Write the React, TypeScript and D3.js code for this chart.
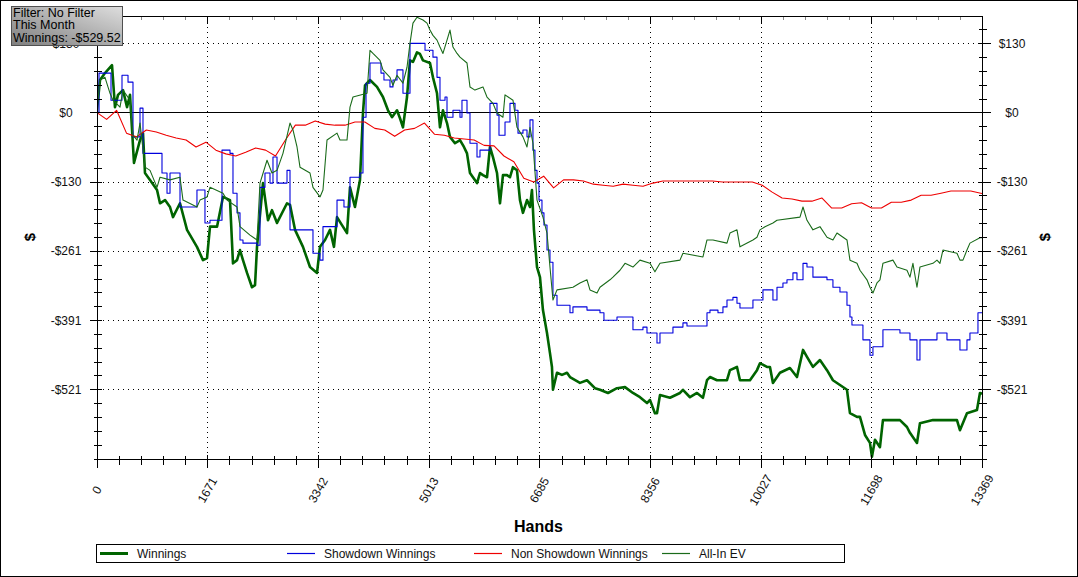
import React from 'react';
import * as d3 from 'd3';

const W = 1078;
const H = 577;
const PLOT = { left: 96.7, right: 982, top: 15.5, bottom: 458.5 };
const FONT = '"Liberation Sans", Arial, sans-serif';

// [hand, $] pairs
const WINNINGS: [number, number][] = [
  [0,0],[50,61],[125,74],[231,89],[276,10],[322,33],[397,42],[458,10],[503,33],[563,-95],[654,-52],[699,-39],[729,-114],[805,-127],[911,-146],[956,-171],[1032,-165],[1107,-178],[1152,-197],[1258,-171],[1364,-221],[1514,-253],[1605,-278],[1666,-274],[1711,-215],[1817,-215],[1907,-159],[2013,-165],[2058,-284],[2119,-278],[2164,-259],[2209,-278],[2270,-302],[2345,-329],[2391,-325],[2421,-253],[2511,-133],[2587,-203],[2647,-184],[2723,-208],[2874,-171],[2919,-174],[2995,-221],[3115,-253],[3221,-291],[3327,-302],[3372,-253],[3448,-240],[3523,-221],[3583,-253],[3629,-197],[3704,-212],[3780,-227],[3825,-141],[3900,-178],[3976,-127],[4021,-1],[4052,51],[4127,61],[4233,48],[4323,29],[4399,4],[4459,-9],[4535,4],[4580,-11],[4625,-28],[4686,29],[4731,98],[4776,95],[4837,113],[4882,110],[4927,98],[5033,93],[5078,66],[5139,36],[5184,-28],[5229,4],[5290,-20],[5335,-46],[5410,-58],[5486,-52],[5546,-65],[5592,-77],[5637,-114],[5682,-122],[5743,-133],[5788,-114],[5833,-118],[5894,-122],[5939,-65],[5984,-84],[6045,-114],[6090,-171],[6135,-118],[6196,-118],[6241,-122],[6286,-103],[6347,-109],[6392,-165],[6437,-189],[6498,-165],[6543,-178],[6573,-146],[6603,-221],[6649,-291],[6694,-310],[6739,-372],[6800,-415],[6845,-453],[6875,-479],[6890,-522],[6951,-490],[7026,-494],[7102,-490],[7147,-498],[7298,-509],[7404,-504],[7524,-519],[7600,-522],[7721,-528],[7857,-519],[7978,-517],[8098,-528],[8204,-536],[8310,-547],[8355,-541],[8430,-566],[8461,-566],[8506,-532],[8657,-537],[8808,-528],[8853,-522],[8959,-536],[9065,-528],[9155,-537],[9216,-504],[9261,-498],[9367,-504],[9518,-504],[9563,-485],[9669,-479],[9714,-504],[9865,-504],[9971,-485],[10016,-472],[10122,-479],[10167,-479],[10212,-509],[10318,-490],[10469,-481],[10575,-498],[10666,-447],[10726,-460],[10816,-479],[10922,-466],[11028,-485],[11118,-504],[11224,-513],[11330,-522],[11375,-566],[11481,-573],[11526,-573],[11602,-607],[11677,-622],[11707,-648],[11753,-616],[11828,-630],[11873,-579],[12055,-579],[12130,-579],[12236,-592],[12281,-603],[12387,-622],[12432,-585],[12628,-579],[12810,-579],[12991,-579],[13036,-598],[13142,-566],[13293,-560],[13338,-528],[13369,-529.52],
];

const SHOWDOWN: [number, number][] = [
  [0,0],[35,74],[216,23],[382,70],[473,57],[548,-46],[654,8],[699,-77],[986,-114],[1062,-152],[1107,-114],[1258,-178],[1514,-146],[1635,-208],[1711,-203],[1892,-71],[2013,-77],[2058,-152],[2119,-189],[2164,-240],[2209,-246],[2421,-250],[2466,-141],[2541,-114],[2617,-133],[2662,-84],[2723,-133],[2874,-109],[2919,-221],[3266,-265],[3372,-278],[3417,-215],[3629,-165],[3734,-178],[3825,-122],[3976,-114],[4021,-9],[4067,55],[4127,93],[4293,74],[4338,61],[4429,48],[4474,61],[4535,80],[4625,36],[4731,130],[4958,117],[5078,104],[5139,66],[5184,23],[5260,29],[5290,-9],[5380,4],[5486,-9],[5516,23],[5592,-1],[5637,-58],[5743,-84],[5788,-71],[5939,17],[6045,-5],[6075,-43],[6166,-18],[6241,17],[6317,4],[6362,-39],[6437,-33],[6498,-46],[6543,-14],[6588,-71],[6618,-109],[6649,-133],[6679,-165],[6724,-189],[6754,-212],[6800,-259],[6845,-282],[6890,-344],[6951,-363],[7147,-377],[7192,-366],[7404,-372],[7600,-377],[7660,-391],[7857,-385],[8098,-409],[8249,-404],[8310,-415],[8461,-434],[8506,-415],[8702,-404],[8853,-396],[8914,-402],[9216,-377],[9261,-372],[9382,-377],[9457,-366],[9518,-353],[9608,-348],[9669,-359],[9714,-368],[9910,-353],[10061,-334],[10212,-353],[10273,-329],[10363,-321],[10424,-315],[10514,-302],[10575,-315],[10666,-284],[10726,-291],[10816,-310],[11028,-315],[11118,-329],[11224,-338],[11330,-363],[11375,-385],[11405,-400],[11571,-428],[11677,-457],[11722,-441],[11873,-409],[12130,-415],[12281,-428],[12387,-466],[12432,-428],[12689,-415],[12840,-428],[13036,-447],[13142,-428],[13187,-415],[13308,-377],[13369,-377],
];

const NS_HANDS = [0,150,300,450,600,750,900,1050,1200,1350,1500,1650,1800,1950,2100,2250,2400,2550,2700,2850,3000,3150,3300,3450,3600,3750,3900,4050,4200,4350,4500,4650,4800,4950,5100,5250,5400,5550,5700,5850,6000,6150,6300,6450,6600,6750,6900,7050,7200,7350,7500,7650,7800,7950,8100,8250,8400,8550,8700,8850,9000,9150,9300,9450,9600,9750,9900,10050,10200,10350,10500,10650,10800,10950,11100,11250,11400,11550,11700,11850,12000,12150,12300,12450,12600,12750,12900,13050,13200,13350,13369];
const NON_SHOWDOWN = [0,-13,4,-39,-46,-33,-37,-43,-48,-52,
 -65,-56,-71,-78,-82,-75,-67,-71,-82,-52,
 -24,-24,-16,-22,-24,-24,-18,-18,-30,-33,
 -45,-33,-30,-20,-41,-43,-48,-50,-52,-62,
 -63,-82,-93,-124,-131,-120,-142,-127,-127,-129,
 -135,-137,-139,-135,-137,-139,-133,-129,-129,-129,
 -129,-129,-129,-131,-131,-131,-131,-137,-150,-161,
 -163,-167,-167,-161,-180,-180,-172,-170,-180,-180,
 -169,-169,-165,-156,-156,-152,-148,-148,-148,-152,
 -152.52];

const ALLIN_EV: [number, number][] = [
  [0,0],[50,61],[125,66],[201,36],[246,23],[352,10],[397,42],[503,23],[548,-43],[609,-52],[654,-20],[729,-103],[805,-109],[911,-141],[956,-122],[1107,-127],[1258,-122],[1303,-165],[1514,-178],[1560,-165],[1666,-159],[1711,-141],[1907,-152],[1968,-165],[2119,-178],[2164,-215],[2315,-231],[2421,-240],[2466,-133],[2572,-90],[2647,-114],[2723,-109],[2813,-77],[2919,-20],[2964,-33],[3025,-65],[3070,-103],[3221,-114],[3266,-141],[3372,-159],[3417,-146],[3478,-52],[3629,-39],[3674,-52],[3780,-52],[3825,10],[3870,29],[4082,36],[4127,117],[4172,111],[4278,98],[4323,80],[4429,66],[4474,51],[4535,70],[4625,55],[4686,85],[4731,130],[4776,168],[4837,179],[4927,174],[4988,168],[5033,155],[5078,145],[5139,136],[5184,123],[5229,111],[5290,136],[5335,155],[5380,123],[5441,111],[5486,104],[5592,93],[5637,48],[5712,42],[5833,48],[5894,29],[5984,17],[6045,-1],[6135,-9],[6166,33],[6286,23],[6347,-28],[6437,-46],[6498,-65],[6543,-28],[6588,-58],[6649,-165],[6739,-197],[6800,-227],[6845,-291],[6890,-353],[6951,-334],[7192,-329],[7298,-321],[7404,-315],[7449,-334],[7555,-340],[7600,-329],[7751,-315],[7796,-310],[7902,-297],[7978,-284],[8098,-291],[8204,-278],[8355,-284],[8430,-300],[8506,-284],[8808,-278],[8853,-265],[9155,-272],[9216,-240],[9306,-240],[9518,-246],[9563,-227],[9669,-221],[9714,-253],[9910,-240],[9971,-235],[10016,-221],[10092,-215],[10212,-208],[10273,-203],[10620,-197],[10666,-178],[10726,-203],[10816,-221],[10922,-215],[11028,-235],[11118,-240],[11179,-227],[11330,-240],[11375,-278],[11481,-284],[11526,-297],[11632,-315],[11677,-329],[11722,-340],[11783,-321],[11828,-315],[11873,-284],[12024,-278],[12085,-291],[12236,-297],[12281,-310],[12326,-284],[12387,-329],[12432,-291],[12628,-284],[12689,-278],[12734,-284],[12779,-259],[12991,-265],[13036,-278],[13081,-278],[13142,-259],[13187,-246],[13338,-236],[13369,-236],
];

const X_TICKS = [0, 1671, 3342, 5013, 6685, 8356, 10027, 11698, 13369];
const Y_TICK_VALUES = [130.26, 0, -130.26, -260.52, -390.78, -521.04];
const Y_TICK_LABELS = ['$130', '$0', '-$130', '-$261', '-$391', '-$521'];
const Y_DOMAIN = [-651.3, 182.4];
const Y_MINOR_STEP = 26.052;

const LEGEND = [
  { name: 'Winnings', color: '#006400', width: 3 },
  { name: 'Showdown Winnings', color: '#0000dd', width: 1.2 },
  { name: 'Non Showdown Winnings', color: '#ee0000', width: 1.2 },
  { name: 'All-In EV', color: '#1a6b1a', width: 1.2 },
];

const FILTER_LINES = ['Filter: No Filter', 'This Month', 'Winnings: -$529.52'];

export default function App() {
  const x = d3.scaleLinear().domain([0, 13369]).range([PLOT.left, PLOT.right]);
  const y = d3.scaleLinear().domain(Y_DOMAIN).range([PLOT.bottom, PLOT.top]);
  const px = (v: number) => Math.round(x(v)) + 0.5;
  const py = (v: number) => Math.round(y(v)) + 0.5;

  const pairLine = (pts: [number, number][], curve: any) =>
    d3.line<[number, number]>()
      .x((d) => x(d[0]))
      .y((d) => y(d[1]))
      .curve(curve)(pts) || '';

  const nsPts: [number, number][] = NON_SHOWDOWN.map((v, i) => [NS_HANDS[i], v]);

  const minorX: number[] = [];
  for (let i = 0; i < X_TICKS.length - 1; i++) {
    for (let j = 1; j < 5; j++) {
      minorX.push(X_TICKS[i] + ((X_TICKS[i + 1] - X_TICKS[i]) * j) / 5);
    }
  }
  const minorY: number[] = [];
  for (let v = Y_DOMAIN[0]; v <= Y_DOMAIN[1] - 1; v += Y_MINOR_STEP) minorY.push(v);

  const L = Math.round(PLOT.left) + 0.5;
  const R = Math.round(PLOT.right) + 0.5;
  const T = Math.round(PLOT.top) + 0.5;
  const B = Math.round(PLOT.bottom) + 0.5;

  const legendStarts = [100, 287, 474, 662];

  return (
    <svg width={W} height={H} style={{ position: 'absolute', left: 0, top: 0, background: '#fff' }}
      fontFamily={FONT}>
      <defs>
        <clipPath id="plotclip">
          <rect x={L} y={T - 1} width={R - L} height={B - T + 1} />
        </clipPath>
        <linearGradient id="fbox" x1="0" y1="1" x2="1" y2="0">
          <stop offset="0" stopColor="#7e7e7e" />
          <stop offset="1" stopColor="#dedede" />
        </linearGradient>
      </defs>
      <rect x={0.5} y={0.5} width={W - 1} height={H - 1} fill="#fff" stroke="#000" />

      {/* gridlines */}
      <g stroke="#000" strokeDasharray="1,4" shapeRendering="crispEdges">
        {Y_TICK_VALUES.filter((v) => v !== 0).map((v) => (
          <line key={'gy' + v} x1={L} x2={R} y1={py(v)} y2={py(v)} />
        ))}
        {X_TICKS.slice(1, -1).map((v) => (
          <line key={'gx' + v} x1={px(v)} x2={px(v)} y1={T} y2={B} />
        ))}
      </g>
      <line x1={L} x2={R} y1={py(0)} y2={py(0)} stroke="#000" shapeRendering="crispEdges" />

      {/* series */}
      <g clipPath="url(#plotclip)" fill="none" strokeLinejoin="round">
        <path d={pairLine(WINNINGS, d3.curveLinear)} stroke="#006400" strokeWidth={2.6} />
        <path d={pairLine(SHOWDOWN, d3.curveStepAfter)} stroke="#0000dd" strokeWidth={1.1} />
        <path d={pairLine(nsPts, d3.curveLinear)} stroke="#ee0000" strokeWidth={1.1} />
        <path d={pairLine(ALLIN_EV, d3.curveLinear)} stroke="#1a6b1a" strokeWidth={1.1} />
      </g>

      {/* frame and axes */}
      <g stroke="#000" shapeRendering="crispEdges" fill="none">
        <line x1={L} x2={R} y1={T} y2={T} />
        <line x1={L} x2={L} y1={T} y2={B + 8} />
        <line x1={R} x2={R} y1={T} y2={B + 8} />
        <line x1={L} x2={R} y1={B} y2={B} />
        {minorY.map((v) => (
          <g key={'my' + v}>
            <line x1={L - 4} x2={L + 4} y1={py(v)} y2={py(v)} />
            <line x1={R - 4} x2={R + 4} y1={py(v)} y2={py(v)} />
          </g>
        ))}
        {Y_TICK_VALUES.map((v) => (
          <g key={'My' + v}>
            <line x1={L - 8} x2={L + 4} y1={py(v)} y2={py(v)} />
            <line x1={R - 4} x2={R + 8} y1={py(v)} y2={py(v)} />
          </g>
        ))}
        {minorX.map((v) => (
          <g key={'mx' + v}>
            <line x1={px(v)} x2={px(v)} y1={B - 4} y2={B + 5} />
            <line x1={px(v)} x2={px(v)} y1={T} y2={T + 3} stroke="#888" />
          </g>
        ))}
        {X_TICKS.map((v) => (
          <g key={'Mx' + v}>
            <line x1={px(v)} x2={px(v)} y1={B - 5} y2={B + 8} />
            <line x1={px(v)} x2={px(v)} y1={T} y2={T + 7} />
          </g>
        ))}
      </g>

      {/* y labels */}
      <g fontSize={12} fill="#111" textAnchor="middle">
        {Y_TICK_VALUES.map((v, i) => (
          <g key={'yl' + v}>
            <text x={66} y={y(v) + 4.5}>{Y_TICK_LABELS[i]}</text>
            <text x={1012} y={y(v) + 4.5}>{Y_TICK_LABELS[i]}</text>
          </g>
        ))}
      </g>

      {/* x labels */}
      <g fontSize={12} fill="#111" textAnchor="middle">
        {X_TICKS.map((v) => (
          <text key={'xl' + v} transform={`translate(${x(v)},${490}) rotate(-60)`} dy="0.35em">{v}</text>
        ))}
      </g>

      {/* axis titles */}
      <text x={538.5} y={532} fontSize={16} fontWeight="bold" textAnchor="middle" fill="#000">Hands</text>
      <text transform={`translate(35,237) rotate(-90)`} fontSize={15} fontWeight="bold" textAnchor="middle" fill="#000">$</text>
      <text transform={`translate(1050,237) rotate(-90)`} fontSize={15} fontWeight="bold" textAnchor="middle" fill="#000">$</text>

      {/* legend */}
      <rect x={96.5} y={544.5} width={748} height={18} fill="#fff" stroke="#000" shapeRendering="crispEdges" />
      {LEGEND.map((d, i) => (
        <g key={d.name}>
          <line x1={legendStarts[i]} x2={legendStarts[i] + 28} y1={553.5} y2={553.5} stroke={d.color} strokeWidth={d.width} />
          <text x={legendStarts[i] + 37} y={557.5} fontSize={12} fill="#111">{d.name}</text>
        </g>
      ))}

      {/* filter box (drawn over the plot corner, as in the original) */}
      <rect x={11.5} y={6.5} width={111} height={39} fill="url(#fbox)" stroke="#505050" />
      {FILTER_LINES.map((t, i) => (
        <text key={t} x={13} y={17 + i * 12.3} fontSize={12.5} fill="#000">{t}</text>
      ))}
    </svg>
  );
}
